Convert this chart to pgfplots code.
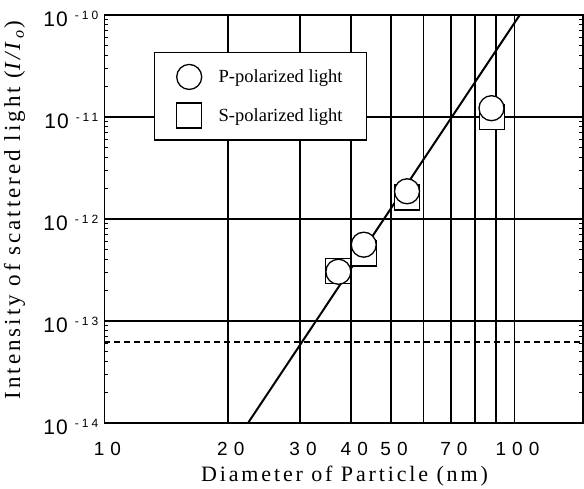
\documentclass[border=0pt]{standalone}
\usepackage{fontspec}
\setmainfont{Liberation Serif}
\newfontfamily\xtickfont[LetterSpace=32]{Liberation Sans}
\newfontfamily\ytickfont[LetterSpace=5]{Liberation Sans}
\newfontfamily\expfont[LetterSpace=25]{Liberation Sans}
\newfontfamily\labserif[LetterSpace=13]{Liberation Serif}
\usepackage{pgfplots}
\pgfplotsset{compat=1.18}
\newcommand{\ylab}[1]{{\fontsize{21}{21}\ytickfont 10}\hspace{7pt}\raisebox{7pt}{\fontsize{12}{12}\expfont #1}}
\begin{document}
\begin{tikzpicture}[x=1pt,y=1pt]
\path[use as bounding box] (0,0) rectangle (584,489);
\begin{axis}[
  at={(104.4pt,66pt)}, anchor=south west,
  scale only axis, width=478.3pt, height=408pt,
  xmode=log, ymode=log,
  xmin=10, xmax=146.7, ymin=1e-14, ymax=1e-10,
  axis line style={line width=1.8pt},
  xtick={10,20,30,40,50,70,100},
  xticklabels={10,20,30,40,50,70,100},
  minor xtick={60,80,90},
  xmajorgrids, xminorgrids,
  major x grid style={line width=1.6pt, black},
  minor x grid style={line width=1.6pt, black},
  ytick={1e-14,1e-13,1e-12,1e-11,1e-10},
  yticklabels={\ylab{-14},\ylab{-13},\ylab{-12},\ylab{-11},\ylab{-10}},
  ymajorgrids,
  major y grid style={line width=1.2pt, black},
  major tick length=0pt,
  minor tick length=4pt,
  tick style={black, line width=1pt},
  xticklabel style={font=\fontsize{19}{19}\xtickfont, anchor=base, inner sep=0pt, yshift=-32pt, xshift=3pt},
  yticklabel style={anchor=base east, inner sep=0pt, xshift=-6pt, yshift=-11pt},
  xlabel={Diameter of Particle (nm)},
  ylabel={Intensity of scattered light (\textit{I/I}\textsubscript{\textit{o}})},
  xlabel style={font=\fontsize{22}{22}\labserif, at={(axis description cs:0.502,-0.13)}, anchor=center},
  ylabel style={font=\fontsize{23}{23}\labserif, at={(axis description cs:-0.188,0.522)}, anchor=center},
  legend style={at={(rel axis cs:0.1037,0.910)}, anchor=north west, draw=black, line width=1.4pt,
    font=\fontsize{18.5}{18.5}\selectfont, inner xsep=22pt, inner ysep=12pt, row sep=13.5pt,
    /tikz/every odd column/.append style={column sep=15pt}},
  legend cell align=left,
  reverse legend,
  legend image code/.code={\draw[#1, mark repeat=2, mark phase=2] plot coordinates {(0pt,0pt) (13pt,0pt) (26pt,0pt)};},
]
\addplot[black, line width=2pt, forget plot] coordinates {(22.4,1e-14) (103,1e-10)};
\addplot[black, line width=2.2pt, dash pattern=on 6pt off 4pt, forget plot] coordinates {(10,6.27e-14) (146.7,6.27e-14)};
\addplot[only marks, mark=square*, mark size=12.5pt, mark options={fill=white, draw=black, line width=1.3pt}]
  coordinates {(37.1,3.1e-13) (43,4.6e-13) (54.7,1.62e-12) (88.2,1.0e-11)};
\addlegendentry{S-polarized light\hspace{11pt}}
\addplot[only marks, mark=*, mark size=12.5pt, mark options={fill=white, draw=black, line width=1.3pt}]
  coordinates {(37.2,3.04e-13) (42.9,5.6e-13) (54.7,1.87e-12) (87.9,1.22e-11)};
\addlegendentry{P-polarized light\hspace{11pt}}
\end{axis}
\end{tikzpicture}
\end{document}
